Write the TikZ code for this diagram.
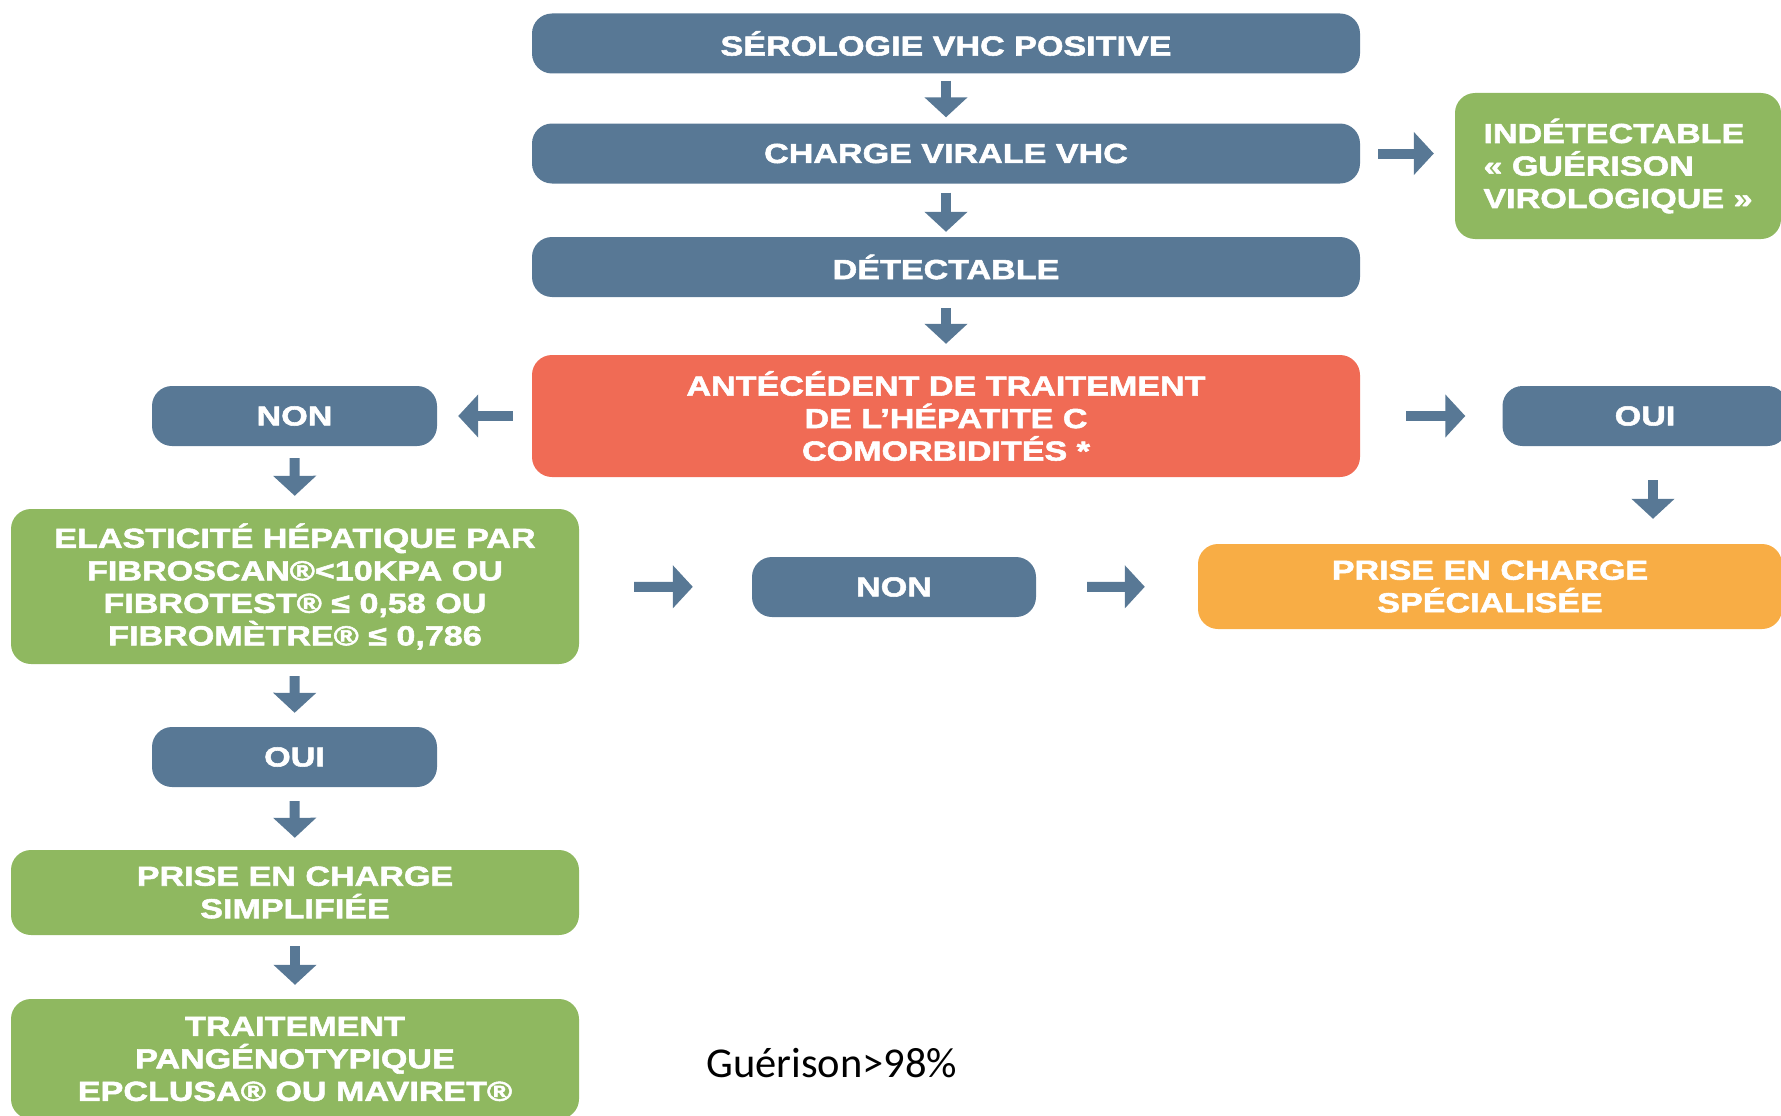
\documentclass[tikz,border=0pt]{standalone}
\usepackage{fontspec}
\newfontfamily\boxfont{Liberation Sans}[UprightFont={* Bold}, FakeStretch=1.24, FakeBold=2]
\newfontfamily\notefont{Carlito}
\usetikzlibrary{arrows.meta,positioning}

\definecolor{vhcblue}{HTML}{587895}
\definecolor{vhcgreen}{HTML}{8FB860}
\definecolor{vhcred}{HTML}{F06B55}
\definecolor{vhcorange}{HTML}{F8AD45}

\tikzset{
    box/.style = {rounded corners=20pt, text=white, align=center, inner sep=0pt,
                  font=\boxfont\fontsize{27.5}{32.5}\selectfont},
    bluebox/.style = {box, fill=vhcblue, minimum height=60pt},
    greenbox/.style = {box, fill=vhcgreen},
    redbox/.style = {box, fill=vhcred},
    orangebox/.style = {box, fill=vhcorange},
    arr/.style = {vhcblue, line width=10pt, -{Triangle[width=42pt,length=20pt]}}
}

\begin{document}
\begin{tikzpicture}[x=1pt, y=-1pt]
    \useasboundingbox (0,0) rectangle (1781,1116);

    \node[bluebox, minimum width=828pt] (sero) at (946,43.5) {SÉROLOGIE VHC POSITIVE};
    \node[bluebox, minimum width=828pt] (charge) at (946,153.5) {CHARGE VIRALE VHC};
    \node[bluebox, minimum width=828pt] (detect) at (946,267) {DÉTECTABLE};
    \node[redbox, minimum width=828pt, minimum height=122pt] (antec) at (946,416)
        {ANTÉCÉDENT DE TRAITEMENT\\DE L’HÉPATITE C\\COMORBIDITÉS *};
    \node[greenbox, minimum width=326pt, minimum height=146pt, align=left] (indet) at (1618,166)
        {INDÉTECTABLE\\« GUÉRISON\\VIROLOGIQUE »};
    \node[bluebox, minimum width=285pt] (nonA) at (294.5,416) {NON};
    \node[bluebox, minimum width=285pt] (ouiA) at (1645,416) {OUI};
    \node[greenbox, minimum width=568pt, minimum height=155pt] (elast) at (295,586.5)
        {ELASTICITÉ HÉPATIQUE PAR\\FIBROSCAN®<10KPA OU\\FIBROTEST® ≤ 0,58 OU\\FIBROMÈTRE® ≤ 0,786};
    \node[bluebox, minimum width=284pt] (nonB) at (894,587) {NON};
    \node[orangebox, minimum width=584pt, minimum height=85pt] (spec) at (1490,586.5)
        {PRISE EN CHARGE\\SPÉCIALISÉE};
    \node[bluebox, minimum width=285pt] (ouiB) at (294.5,757) {OUI};
    \node[greenbox, minimum width=568pt, minimum height=85pt] (simpl) at (295,892.5)
        {PRISE EN CHARGE\\SIMPLIFIÉE};
    \node[greenbox, minimum width=568pt, minimum height=120pt] (trait) at (295,1059)
        {TRAITEMENT\\PANGÉNOTYPIQUE\\EPCLUSA® OU MAVIRET®};
    \node[anchor=base west, inner sep=0pt, font=\notefont\fontsize{42.5}{46}\selectfont] (gueri) at (706,1077)
        {Guérison>98\%};

    % main column
    \draw[arr, shorten <=7pt, shorten >=6pt] (sero) -- (charge);
    \draw[arr, shorten <=9pt, shorten >=5pt] (charge) -- (detect);
    \draw[arr, shorten <=11pt, shorten >=11pt] (detect) -- (antec);
    \draw[arr, shorten <=18pt, shorten >=21pt] (charge.east) -- (charge.east -| indet.west);
    \draw[arr, shorten <=19pt, shorten >=21pt] (antec) -- (nonA);
    \draw[arr, shorten <=46pt, shorten >=37pt] (antec) -- (ouiA);
    \draw[arr, shorten <=34pt, shorten >=25pt] ([xshift=8pt]ouiA.south) -- ([xshift=8pt]ouiA.south |- spec.north);

    % left column
    \draw[arr, shorten <=12pt, shorten >=13pt] (nonA) -- (elast);
    \draw[arr, shorten <=12pt, shorten >=14pt] (elast) -- (ouiB);
    \draw[arr, shorten <=14pt, shorten >=12pt] (ouiB) -- (simpl);
    \draw[arr, shorten <=11pt, shorten >=14pt] (simpl) -- (trait);
    \draw[arr, shorten <=55pt, shorten >=59pt] (elast) -- (nonB);
    \draw[arr, shorten <=51pt, shorten >=53pt] (nonB) -- (spec);
\end{tikzpicture}
\end{document}
